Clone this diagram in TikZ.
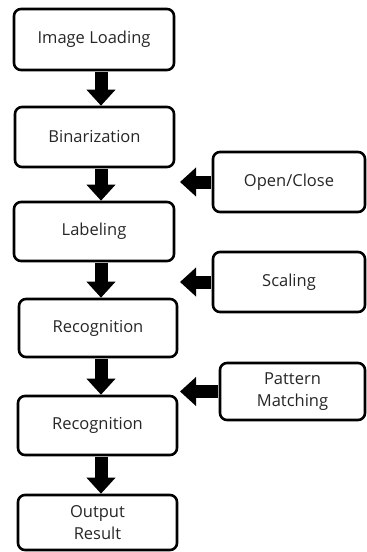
\documentclass[tikz,border=0pt]{standalone}
\usepackage{fontspec}
\setmainfont{Open Sans}
\usetikzlibrary{arrows.meta}
\begin{document}
\begin{tikzpicture}[x=1pt,y=-1pt,
  box/.style={draw, line width=2.6pt, rounded corners=7pt, font=\fontsize{16.5}{22}\selectfont, text=black!85, align=center, inner sep=0pt},
  bigarrow/.style={line width=13pt, -{Triangle[width=28pt,length=16pt]}, shorten <=1pt}
]
\useasboundingbox (0,0) rectangle (367,552);
\def\bx#1#2#3#4#5#6{\node[box, minimum width={(#4)-(#2)}, minimum height={(#5)-(#3)}] (#1) at ({((#2)+(#4))/2},{((#3)+(#5))/2}) {#6};}
\bx{b1}{14}{9}{174}{70}{Image Loading}
\bx{b2}{15}{107}{174}{167}{Binarization}
\bx{b3}{14}{202}{174}{261}{Labeling}
\bx{b4}{19}{299}{177}{357}{Recognition}
\bx{b5}{18}{396}{177}{455}{Recognition}
\bx{b6}{18}{495}{177}{550}{Output\\Result}
\bx{oc}{213}{152}{365}{212}{Open/Close}
\bx{sc}{213}{252}{365}{312}{Scaling}
\bx{pm}{220}{363}{365}{420}{Pattern\\Matching}
\coordinate (ax) at (101,0);
\coordinate (t1) at (180,182);
\coordinate (t2) at (180,282);
\coordinate (t3) at (180,391.5);
\draw[bigarrow] (b1.south -| ax) -- (b2.north -| ax);
\draw[bigarrow] (b2.south -| ax) -- (b3.north -| ax);
\draw[bigarrow] (b3.south -| ax) -- (b4.north -| ax);
\draw[bigarrow] (b4.south -| ax) -- (b5.north -| ax);
\draw[bigarrow] (b5.south -| ax) -- (b6.north -| ax);
\draw[bigarrow] (oc.west) -- (t1);
\draw[bigarrow] (sc.west) -- (t2);
\draw[bigarrow] (pm.west) -- (t3);
\end{tikzpicture}
\end{document}
